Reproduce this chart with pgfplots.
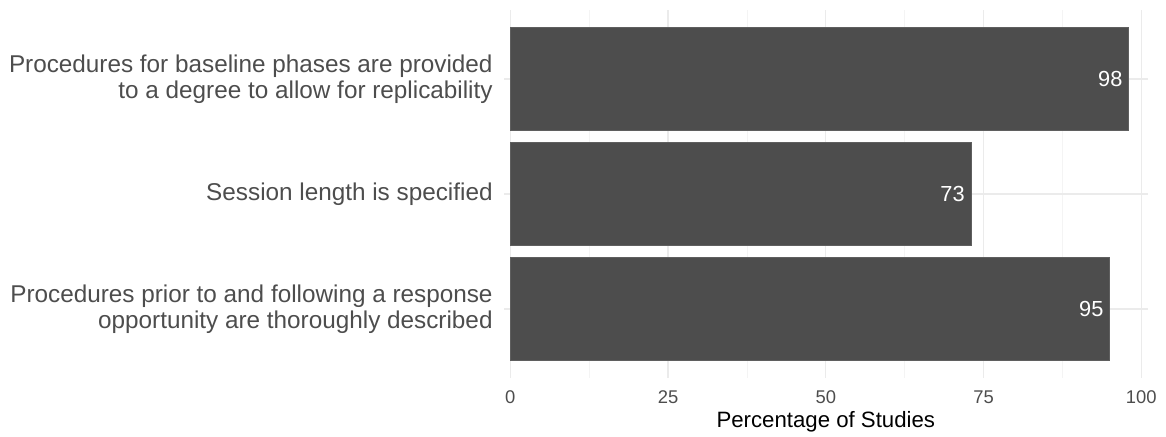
\documentclass[border=0pt]{standalone}
\usepackage{pgfplots}
\pgfplotsset{compat=1.18}
\usepackage{fontspec}
\setmainfont{Liberation Sans}
\definecolor{barfill}{RGB}{77,77,77}
\definecolor{txtgrey}{RGB}{77,77,77}
\definecolor{gridmaj}{RGB}{235,235,235}
\definecolor{gridmin}{RGB}{244,244,244}
\begin{document}
\begin{tikzpicture}[x=1pt,y=1pt]
\path[use as bounding box] (0,0) rectangle (583,218.5);
\begin{axis}[
  at={(252pt,29.5pt)}, anchor=south west,
  scale only axis, width=321.8pt, height=184pt,
  xmin=-1, xmax=101, ymin=0.4, ymax=3.6,
  xbar, bar width=0.9,
  axis line style={draw=none},
  major tick length=0pt, minor tick length=0pt,
  xtick={0,25,50,75,100},
  minor xtick={12.5,37.5,62.5,87.5},
  ytick={1,2,3},
  yticklabels={{Procedures prior to and following a response\\opportunity are thoroughly described},{Session length is specified},{Procedures for baseline phases are provided\\to a degree to allow for replicability}},
  yticklabel style={align=right, anchor=east, inner sep=0pt, xshift=-5.5pt, text=txtgrey, font=\fontsize{12.15}{12.9}\selectfont},
  xticklabel style={inner sep=0pt, anchor=center, yshift=-9.5pt, text=txtgrey, font=\fontsize{9.2}{11}\selectfont},
  /pgf/number format/assume math mode=true,
  xmajorgrids, ymajorgrids, xminorgrids,
  major grid style={gridmaj, line width=0.6pt},
  minor grid style={gridmin, line width=0.4pt},
  xlabel={Percentage of Studies},
  xlabel style={font=\fontsize{11.1}{12}\selectfont, inner sep=0pt, anchor=center, at={(axis description cs:0.5,0)}, yshift=-22pt},
  nodes near coords,
  point meta=x,
  nodes near coords style={anchor=east, inner sep=0pt, xshift=-3pt, text=white, font=\fontsize{10.9}{12}\selectfont},
]
\addplot[fill=barfill, draw=barfill!90!white, line width=0.3pt] coordinates {(95,1) (73,2) (98,3)};
\end{axis}
\end{tikzpicture}
\end{document}
